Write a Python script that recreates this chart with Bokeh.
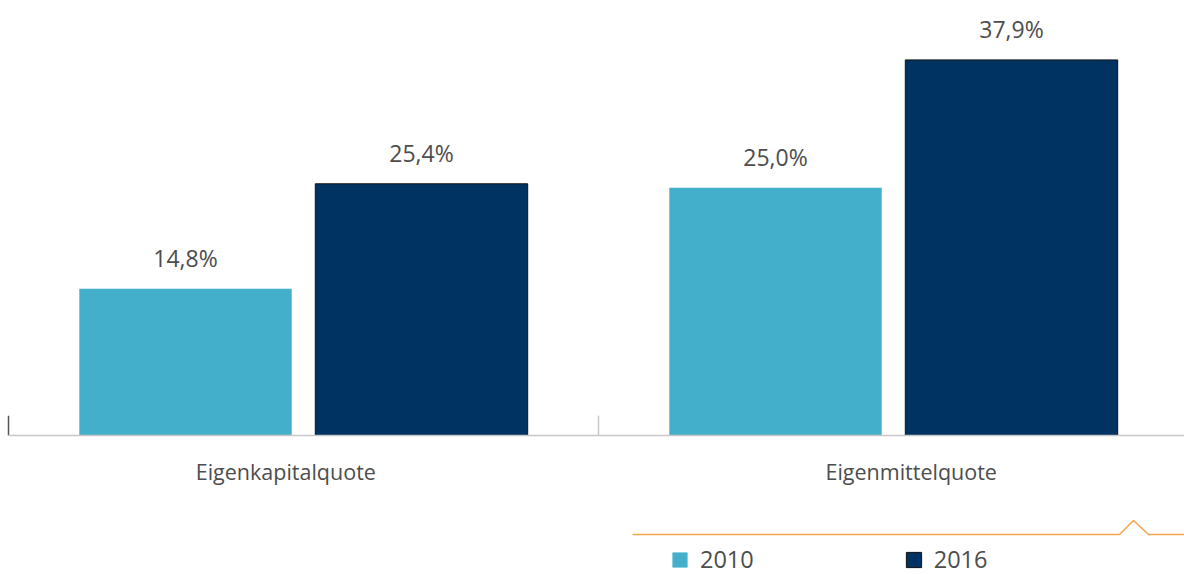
from bokeh.plotting import figure
from bokeh.models import Range1d, FixedTicker, ColumnDataSource, Legend, LegendItem, PolyAnnotation
from bokeh.core.properties import value
from bokeh.embed import file_html
from bokeh.resources import INLINE

categories = ["Eigenkapitalquote", "Eigenmittelquote"]
category_label_pos = [0.47, 1.53]
series = ["2010", "2016"]
values_2010 = [14.8, 25.0]
values_2016 = [25.4, 37.9]
colors = ["#43afcb", "#003361"]

FONT = "Open Sans"
TXT = "#4d4d4d"

W, H = 1184, 574
px_per_cat = 590.0
left_px = 8.0
base_px = 435.0
px_per_pct = 9.91

x0 = -left_px / px_per_cat
x1 = x0 + W / px_per_cat
ytop = base_px / px_per_pct
ybot = -(H - base_px) / px_per_pct

p = figure(width=W, height=H, output_backend="svg", toolbar_location=None,
           x_range=Range1d(x0, x1), y_range=Range1d(ybot, ytop),
           min_border=0, min_border_left=0, min_border_right=0,
           min_border_top=0, min_border_bottom=0)
p.outline_line_color = None
p.grid.visible = False
p.yaxis.visible = False
p.background_fill_color = None
p.border_fill_color = "white"

xa = p.xaxis[0]
xa.fixed_location = 0
xa.bounds = (0, 2)
xa.ticker = FixedTicker(ticks=category_label_pos)
xa.major_label_overrides = {pos: cat for pos, cat in zip(category_label_pos, categories)}
xa.major_tick_line_color = None
xa.minor_tick_line_color = None
xa.axis_line_color = "#c8c8c8"
xa.axis_line_width = 1.5
xa.major_label_text_font = FONT
xa.major_label_text_font_size = "21.5px"
xa.major_label_text_color = TXT
xa.major_label_standoff = 15

# group separator ticks
sep_src = ColumnDataSource(dict(x=[0, 1], y0=[0, 0], y1=[2.0, 2.0], c=["#555555", "#c8c8c8"]))
p.segment(x0="x", y0="y0", x1="x", y1="y1", source=sep_src, line_color="c", line_width=1.5)

offsets = [0.3, 0.7]
bw = 0.36
renderers = []
for si, (vals, col) in enumerate(zip([values_2010, values_2016], colors)):
    xs = [i + offsets[si] for i in range(len(categories))]
    src = ColumnDataSource(dict(x=xs, top=vals,
                                lab=[f"{v:.1f}%".replace(".", ",") for v in vals]))
    r = p.vbar(x="x", top="top", width=bw, bottom=0, source=src, fill_color=col,
               line_color="#111111" if si == 1 else None, line_width=1)
    renderers.append(r)
    p.text(x="x", y="top", text="lab", source=src, text_align="center",
           text_baseline="bottom", y_offset=-15, text_font=value(FONT),
           text_font_size="23px", text_color=TXT)

legend = Legend(items=[LegendItem(label=s, renderers=[r]) for s, r in zip(series, renderers)],
                orientation="horizontal", location=(670, -1), padding=0, margin=0,
                spacing=150, glyph_width=19, glyph_height=19, label_standoff=11,
                label_text_font=FONT, label_text_font_size="23.5px", label_text_color=TXT,
                label_height=19,
                background_fill_alpha=0, border_line_color=None)
p.add_layout(legend, "center")

deco = PolyAnnotation(xs=[632, 1119, 1133, 1148, 1184, 1148, 1133, 1119],
                      ys=[534, 534, 520, 534, 534, 534, 520, 534],
                      xs_units="canvas", ys_units="canvas",
                      fill_alpha=0, line_color="#f5a54a", line_alpha=1.0, line_width=1.5)
p.add_layout(deco)

open("out.html", "w").write(file_html(p, INLINE))
